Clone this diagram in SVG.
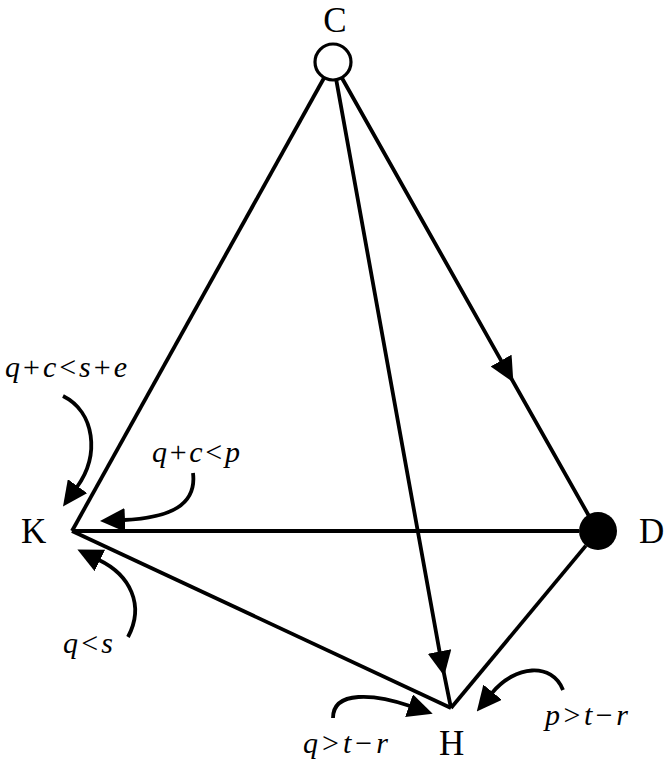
<svg xmlns="http://www.w3.org/2000/svg" width="672" height="768" viewBox="0 0 672 768">
<style>
.edge{fill:none;stroke:#000;stroke-width:3.8}
.cond{fill:none;stroke:#000;stroke-width:3.8}
.lbl{font-family:"Liberation Serif","Times New Roman",serif;font-size:35px;fill:#000}
.math{font-family:"Liberation Serif","Times New Roman",serif;font-size:30px;font-style:italic;fill:#000}
.op{font-style:normal}
</style>
<defs>
<marker id="ah" markerUnits="userSpaceOnUse" markerWidth="25" markerHeight="24" viewBox="0 0 25 24" refX="1" refY="12" orient="auto">
<path d="M0,0 L25,12 L0,24 z" fill="#000"/>
</marker>
</defs>
<rect width="672" height="768" fill="#fff"/>
<g id="connectors">
<path class="edge" d="M324,78 L72,531"/>
<path class="edge" d="M336.2,79.7 L439.7,652.4 L451,708" marker-mid="url(#ah)"/>
<path class="edge" d="M341.8,77.7 L501.6,361.4 L588.7,515.5" marker-mid="url(#ah)"/>
<path class="edge" d="M72,531 L579,531"/>
<path class="edge" d="M72,531 L451,708"/>
<path class="edge" d="M585.9,545.6 L451,708"/>
</g>
<g id="node-C">
<circle cx="333" cy="62" r="18" fill="#fff" stroke="#000" stroke-width="3.2"/>
<text class="lbl" x="335" y="32" text-anchor="middle">C</text>
</g>
<g id="node-D">
<circle cx="598" cy="531" r="19" fill="#000"/>
<text class="lbl" x="639" y="543">D</text>
</g>
<g id="node-K">
<text class="lbl" x="21" y="543">K</text>
</g>
<g id="node-H">
<text class="lbl" x="439" y="755">H</text>
</g>
<g id="cond-qcse">
<path class="cond" d="M63,396 C95,412 100,455 77,487" marker-end="url(#ah)"/>
<text class="math" x="5" y="377" textLength="122" lengthAdjust="spacing">q<tspan class="op">+</tspan>c<tspan class="op">&lt;</tspan>s<tspan class="op">+</tspan>e</text>
</g>
<g id="cond-qcp">
<path class="cond" d="M193,473 C197,505 170,518 124,520" marker-end="url(#ah)"/>
<text class="math" x="152" y="462" textLength="88" lengthAdjust="spacing">q<tspan class="op">+</tspan>c<tspan class="op">&lt;</tspan>p</text>
</g>
<g id="cond-qs">
<path class="cond" d="M128,637 C145,605 130,575 99,560" marker-end="url(#ah)"/>
<text class="math" x="63" y="653" textLength="50" lengthAdjust="spacing">q<tspan class="op">&lt;</tspan>s</text>
</g>
<g id="cond-qtr">
<path class="cond" d="M333,718 C333,690 375,694 410,706" marker-end="url(#ah)"/>
<text class="math" x="303" y="753" textLength="85" lengthAdjust="spacing">q<tspan class="op">&gt;</tspan>t<tspan class="op">−</tspan>r</text>
</g>
<g id="cond-ptr">
<path class="cond" d="M563,690 C552,662 515,665 492,693" marker-end="url(#ah)"/>
<text class="math" x="545" y="725" textLength="83" lengthAdjust="spacing">p<tspan class="op">&gt;</tspan>t<tspan class="op">−</tspan>r</text>
</g>
</svg>
